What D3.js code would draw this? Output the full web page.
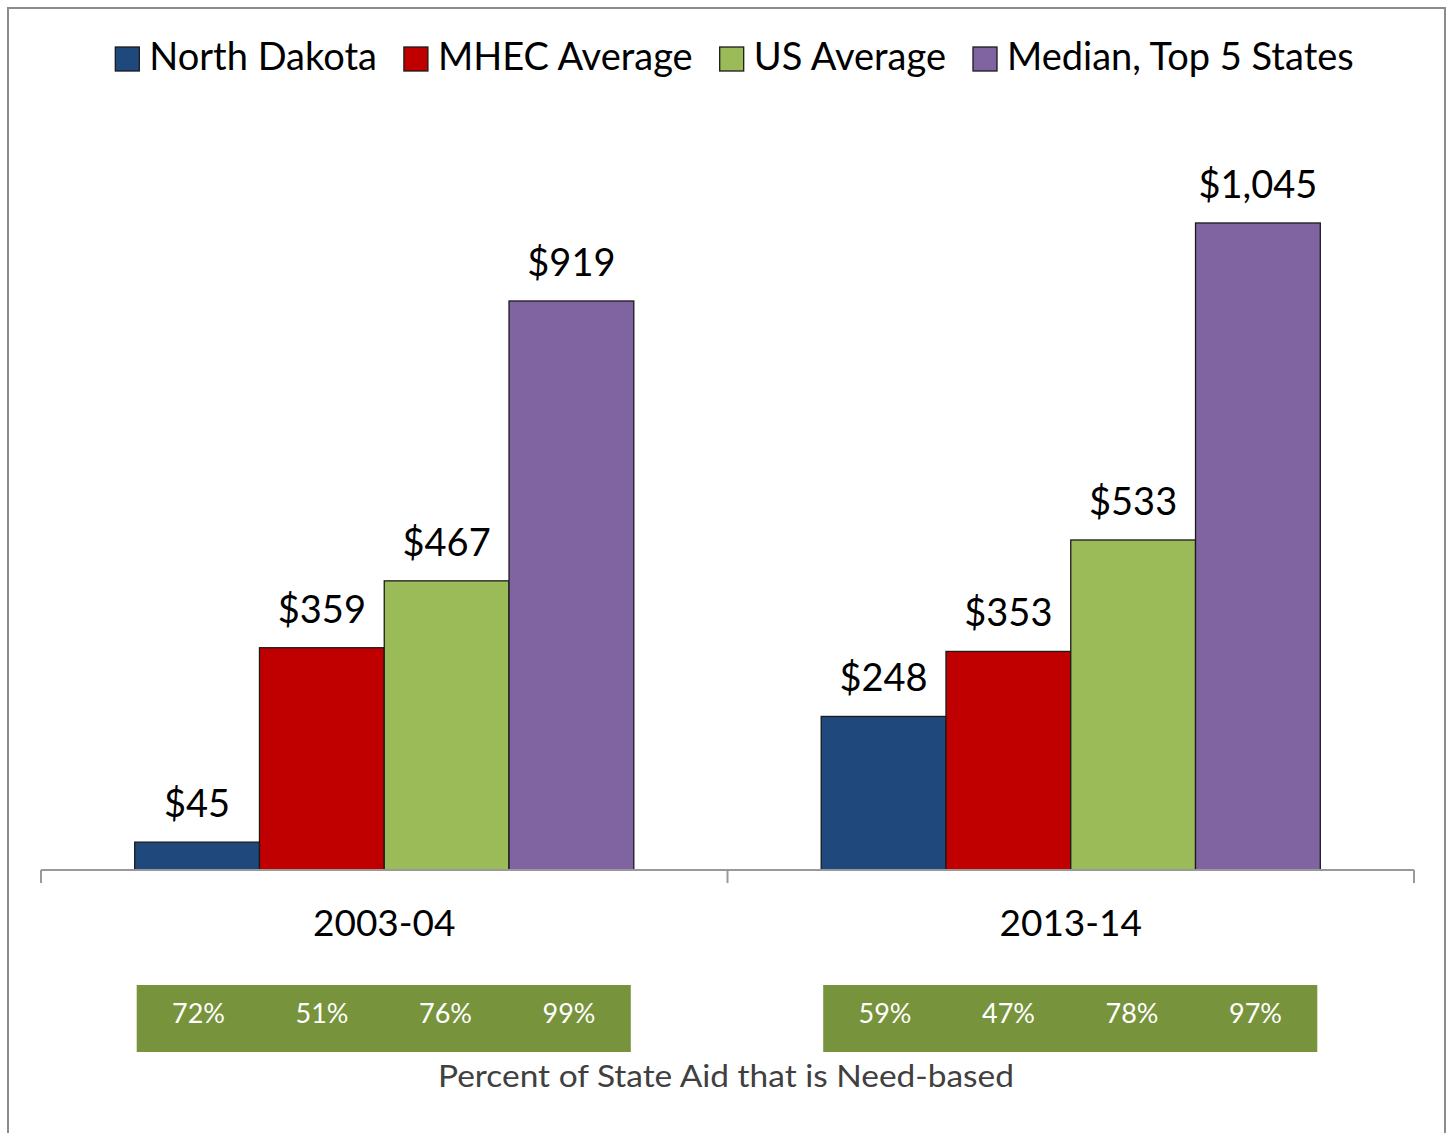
<!DOCTYPE html>
<html>
<head>
<meta charset="utf-8">
<script src="https://cdn.jsdelivr.net/npm/d3@7"></script>
<style>
  html, body { margin: 0; padding: 0; background: #fff; }
  svg { display: block; }
  text { font-family: Lato, "Open Sans", sans-serif; }
</style>
</head>
<body>
<svg id="chart" width="1452" height="1133"></svg>
<script>
// --------------------------------------
// Data
// --------------------------------------
var years = ["2003-04", "2013-14"];
var seriesNames = ["North Dakota", "MHEC Average", "US Average", "Median, Top 5 States"];
var seriesColors = ["#1F497D", "#C00000", "#9BBB59", "#8064A2"];

// dollars per series, one value per year
var northDakota = [45, 248];
var mhecAverage = [359, 353];
var usAverage = [467, 533];
var medianTop5 = [919, 1045];

// percent of state aid that is need-based, same order as series
var needBased2003 = ["72%", "51%", "76%", "99%"];
var needBased2013 = ["59%", "47%", "78%", "97%"];

var footerText = "Percent of State Aid that is Need-based";

var yMax = 1200;

// --------------------------------------
// Build table
// --------------------------------------
var seriesValues = [northDakota, mhecAverage, usAverage, medianTop5];
var needBased = [needBased2003, needBased2013];

var rows = years.map(function(y, i) {
    return {
        year: y,
        bars: seriesNames.map(function(s, j) {
            return { name: s, value: seriesValues[j][i], color: seriesColors[j] };
        }),
        pct: needBased[i]
    };
});

var svg = d3.select("#chart");
var dollar = d3.format("$,");

// frame
svg.append("rect")
    .attr("x", 8).attr("y", 8)
    .attr("width", 1437).attr("height", 1140)
    .attr("fill", "none")
    .attr("stroke", "#8c8c8c")
    .attr("stroke-width", 2);

var left = 41, right = 1414, baseY = 870, topY = 127;

var x0 = d3.scaleBand()
    .domain(years)
    .range([left, right])
    .paddingInner(0.273)
    .paddingOuter(0.1365);

var x1 = d3.scaleBand()
    .domain(seriesNames)
    .range([0, x0.bandwidth()]);

var y = d3.scaleLinear()
    .domain([0, yMax])
    .range([baseY, topY]);

// bars
var groups = svg.selectAll("g.year")
    .data(rows)
    .enter().append("g")
    .attr("class", "year")
    .attr("transform", function(d) { return "translate(" + x0(d.year) + ",0)"; });

groups.selectAll("rect.bar")
    .data(function(d) { return d.bars; })
    .enter().append("rect")
    .attr("class", "bar")
    .attr("x", function(d) { return x1(d.name); })
    .attr("y", function(d) { return y(d.value); })
    .attr("width", x1.bandwidth())
    .attr("height", function(d) { return baseY - y(d.value); })
    .attr("fill", function(d) { return d.color; })
    .attr("stroke", "#1a1a1a")
    .attr("stroke-width", 1.3);

groups.selectAll("text.val")
    .data(function(d) { return d.bars; })
    .enter().append("text")
    .attr("class", "val")
    .attr("x", function(d) { return x1(d.name) + x1.bandwidth() / 2; })
    .attr("y", function(d) { return y(d.value) - 25; })
    .attr("text-anchor", "middle")
    .attr("font-size", 38)
    .attr("fill", "#000")
    .text(function(d) { return dollar(d.value); });

// axis
var axisG = svg.append("g")
    .attr("transform", "translate(0," + baseY + ")");

axisG.append("line")
    .attr("x1", left).attr("x2", right)
    .attr("y1", 0).attr("y2", 0)
    .attr("stroke", "#999").attr("stroke-width", 2);

var tickXs = [left].concat(years.map(function(yr) {
    return x0(yr) + x0.bandwidth() + x0.step() * x0.paddingInner() / 2;
}));
tickXs[tickXs.length - 1] = right;

axisG.selectAll("line.tick")
    .data(tickXs)
    .enter().append("line")
    .attr("class", "tick")
    .attr("x1", function(d) { return d; })
    .attr("x2", function(d) { return d; })
    .attr("y1", 0).attr("y2", 13)
    .attr("stroke", "#999").attr("stroke-width", 2);

axisG.selectAll("text.cat")
    .data(years)
    .enter().append("text")
    .attr("class", "cat")
    .attr("x", function(d) { return x0(d) + x0.bandwidth() / 2; })
    .attr("y", 66)
    .attr("text-anchor", "middle")
    .attr("font-size", 37)
    .attr("fill", "#000")
    .text(function(d) { return d; });

// need-based strip
var strips = svg.selectAll("g.strip")
    .data(rows)
    .enter().append("g")
    .attr("class", "strip")
    .attr("transform", function(d) { return "translate(" + (x0(d.year) + 2) + ",985)"; });

var stripW = x0.bandwidth() - 5;

strips.append("rect")
    .attr("width", stripW)
    .attr("height", 67)
    .attr("fill", "#77933C");

strips.selectAll("text")
    .data(function(d) { return d.pct; })
    .enter().append("text")
    .attr("x", function(d, i) { return stripW / 4 * (i + 0.5); })
    .attr("y", 38)
    .attr("text-anchor", "middle")
    .attr("font-size", 27)
    .attr("fill", "#fff")
    .text(function(d) { return d; });

svg.append("text")
    .attr("x", 726)
    .attr("y", 1087)
    .attr("text-anchor", "middle")
    .attr("font-size", 31)
    .attr("textLength", 576)
    .attr("lengthAdjust", "spacingAndGlyphs")
    .attr("fill", "#404040")
    .text(footerText);

// legend
var legend = svg.append("g");
var items = legend.selectAll("g.item")
    .data(seriesNames)
    .enter().append("g")
    .attr("class", "item");

items.append("rect")
    .attr("x", 0).attr("y", 47)
    .attr("width", 24).attr("height", 24)
    .attr("fill", function(d, i) { return seriesColors[i]; })
    .attr("stroke", "#1a1a1a")
    .attr("stroke-width", 1.3);

items.append("text")
    .attr("x", 34)
    .attr("y", 70)
    .attr("font-size", 38)
    .attr("fill", "#000")
    .text(function(d) { return d; });

var pos = 0;
var itemGap = 27;
items.each(function() {
    var g = d3.select(this);
    var w = 34 + g.select("text").node().getComputedTextLength();
    g.attr("transform", "translate(" + pos + ",0)");
    pos += w + itemGap;
});
var legendW = pos - itemGap;
legend.attr("transform", "translate(" + (734.5 - legendW / 2) + ",0)");
</script>
</body>
</html>
